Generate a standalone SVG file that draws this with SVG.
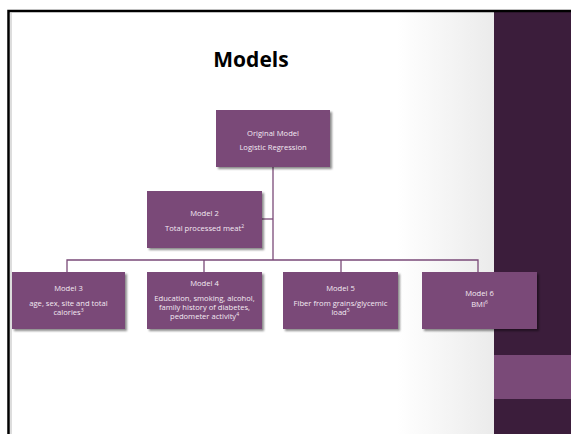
<svg xmlns="http://www.w3.org/2000/svg" width="571" height="434" viewBox="0 0 571 434">
<defs>
<linearGradient id="bg" x1="0" y1="0" x2="1" y2="0">
<stop offset="0.8" stop-color="#ffffff"/>
<stop offset="1" stop-color="#ebebeb"/>
</linearGradient>
<filter id="sh" x="-10%" y="-10%" width="130%" height="130%">
<feDropShadow dx="2" dy="2" stdDeviation="0.8" flood-color="#000" flood-opacity="0.45"/>
</filter>
</defs>
<style>
.box{fill:#7a4a78;filter:url(#sh)}
.t{font-family:"Open Sans","Noto Sans",sans-serif;font-size:7.6px;fill:#f4eaf3;text-anchor:middle}
.c{stroke:#7a4a78;stroke-width:1.3;fill:none}
</style>
<rect width="571" height="434" fill="#ffffff"/>
<rect x="10" y="12" width="484" height="422" fill="url(#bg)"/>
<rect x="494" y="12" width="77" height="422" fill="#3b1d3b"/>
<rect x="494" y="355" width="77" height="44" fill="#7a4a78"/>
<path d="M8.5 434 V11 H571" stroke="#000" stroke-width="2.5" fill="none"/>
<line x1="11" y1="13" x2="11" y2="434" stroke="#aaa" stroke-width="0.8"/>
<text x="251" y="67" font-family="'Open Sans','Noto Sans',sans-serif" font-size="21" font-weight="bold" text-anchor="middle" fill="#000">Models</text>
<g id="connectors">
<path class="c" d="M273 167 V260"/>
<path class="c" d="M262 219 H273"/>
<path class="c" d="M67 272 V260 H478 V272"/>
<path class="c" d="M204 260 V272"/>
<path class="c" d="M341 260 V272"/>
</g>
<g id="original">
<rect class="box" x="216" y="110" width="114" height="57"/>
<text class="t" x="273" y="136">Original Model</text>
<text class="t" x="273" y="150">Logistic Regression</text>
</g>
<g id="model2">
<rect class="box" x="147" y="191" width="115" height="57"/>
<text class="t" x="204.5" y="216">Model 2</text>
<text class="t" x="204.5" y="231">Total processed meat<tspan font-size="5" dy="-3">2</tspan></text>
</g>
<g id="model3">
<rect class="box" x="12" y="272" width="113" height="57"/>
<text class="t" x="68.5" y="291">Model 3</text>
<text class="t" x="68.5" y="306">age, sex, site and total</text>
<text class="t" x="68.5" y="315">calories<tspan font-size="5" dy="-3">3</tspan></text>
</g>
<g id="model4">
<rect class="box" x="147" y="272" width="115" height="57"/>
<text class="t" x="204.5" y="286">Model 4</text>
<text class="t" x="204.5" y="301">Education, smoking, alcohol,</text>
<text class="t" x="204.5" y="310">family history of diabetes,</text>
<text class="t" x="204.5" y="319">pedometer activity<tspan font-size="5" dy="-3">4</tspan></text>
</g>
<g id="model5">
<rect class="box" x="283" y="272" width="115" height="57"/>
<text class="t" x="340.5" y="291">Model 5</text>
<text class="t" x="340.5" y="306">Fiber from grains/glycemic</text>
<text class="t" x="340.5" y="315">load<tspan font-size="5" dy="-3">5</tspan></text>
</g>
<g id="model6">
<rect class="box" x="422" y="272" width="115" height="57"/>
<text class="t" x="479.5" y="296">Model 6</text>
<text class="t" x="479.5" y="307">BMI<tspan font-size="5" dy="-3">6</tspan></text>
</g>
</svg>
